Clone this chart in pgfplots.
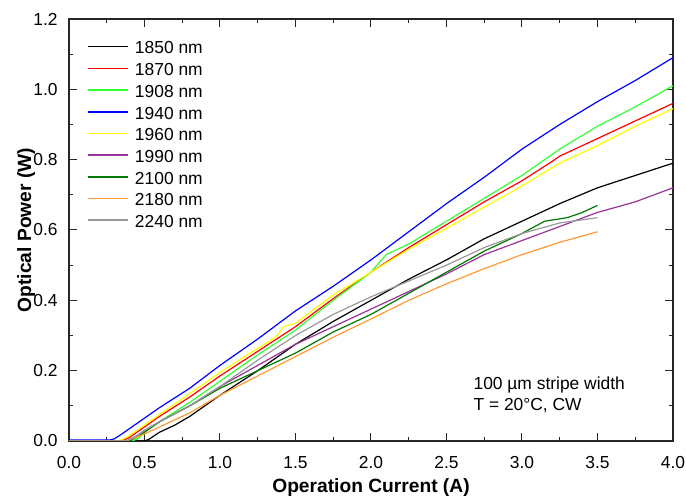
\documentclass[border=0pt]{standalone}
\usepackage{fontspec}
\setmainfont{Liberation Sans}
\usepackage{pgfplots}
\pgfplotsset{compat=1.18}
\definecolor{cgreen}{HTML}{33FF33}
\definecolor{cyellow}{HTML}{FFFF00}
\definecolor{cpurple}{HTML}{993399}
\definecolor{cdkgreen}{HTML}{007700}
\definecolor{corange}{HTML}{FF9933}
\definecolor{cgray}{HTML}{999999}
\begin{document}
\fontsize{8.7}{10.4}\selectfont
\begin{tikzpicture}
\useasboundingbox (-34.5pt,-30pt) rectangle (308.5pt,220.5pt);
\begin{axis}[
    at={(0pt,0pt)}, anchor=south west,
    width=302pt, height=211pt,
    scale only axis,
    xmin=0, xmax=4, ymin=0, ymax=1.2,
    xtick={0,0.5,...,4}, ytick={0,0.2,...,1.2},
    minor x tick num=1, minor y tick num=1,
    tick align=inside,
    major tick length=4pt, minor tick length=2.2pt,
    axis line style={line width=0.7pt, black!85},
    every tick/.style={black!85, line width=0.5pt},
    /pgf/number format/assume math mode=true,
    /pgf/number format/.cd, fixed, fixed zerofill, precision=1, /pgfplots/.cd,
    ticklabel style={font=\fontsize{8.7}{10.4}\selectfont},
    xticklabel style={yshift=-4.5pt},
    yticklabel style={xshift=-2.6pt},
    xlabel={\bfseries Operation Current (A)},
    ylabel={\bfseries Optical Power (W)},
    label style={font=\fontsize{9.6}{11.5}\selectfont},
    xlabel style={at={(axis description cs:0.5,-0.1232)}, anchor=base},
    ylabel style={at={(axis description cs:-0.0629,0.5)}, anchor=base},
    legend style={draw=none, fill=none, at={(axis description cs:0,1)}, anchor=north west,
        xshift=9pt, yshift=-10.8pt, inner sep=0pt,
        font=\fontsize{8.7}{10.4}\selectfont, row sep=2.55pt, column sep=3pt,
        nodes={inner sep=0pt, text height=6.5pt, text depth=1.8pt}},
    legend cell align=left,
    legend image code/.code={\draw[#1, line width=0.8pt] (0pt,1.3pt) -- (20pt,1.3pt);},
    every axis plot/.append style={line width=0.6pt},
]
\addplot[black] coordinates {(0,0)(0.5,0)(0.53,0.005)(0.6,0.025)(0.7,0.045)(0.8,0.07)(1.0,0.13)(1.25,0.2)(1.5,0.275)(1.75,0.34)(2.0,0.4)(2.25,0.46)(2.5,0.515)(2.75,0.575)(3.0,0.625)(3.25,0.675)(3.5,0.72)(3.75,0.755)(4.0,0.79)};
\addlegendentry{1850 nm}
\addplot[red] coordinates {(0,0)(0.35,0)(0.4,0.01)(0.5,0.04)(0.6,0.07)(0.8,0.125)(1.0,0.185)(1.25,0.255)(1.5,0.325)(1.75,0.405)(2.0,0.48)(2.25,0.55)(2.5,0.615)(2.75,0.68)(3.0,0.74)(3.2,0.795)(3.25,0.81)(3.5,0.86)(3.75,0.91)(4.0,0.96)};
\addlegendentry{1870 nm}
\addplot[cgreen] coordinates {(0,0)(0.42,0)(0.46,0.008)(0.5,0.025)(0.6,0.055)(0.8,0.11)(1.0,0.17)(1.25,0.245)(1.5,0.315)(1.6,0.35)(1.75,0.4)(2.0,0.48)(2.1,0.53)(2.25,0.56)(2.5,0.625)(2.75,0.69)(3.0,0.755)(3.25,0.83)(3.5,0.895)(3.75,0.95)(4.0,1.01)};
\addlegendentry{1908 nm}
\addplot[blue] coordinates {(0,0.003)(0.27,0.003)(0.3,0.006)(0.35,0.02)(0.4,0.035)(0.5,0.065)(0.6,0.095)(0.8,0.15)(1.0,0.215)(1.25,0.29)(1.5,0.37)(1.75,0.44)(2.0,0.515)(2.25,0.595)(2.5,0.675)(2.75,0.75)(3.0,0.83)(3.25,0.9)(3.5,0.965)(3.75,1.025)(4.0,1.09)};
\addlegendentry{1940 nm}
\addplot[cyellow] coordinates {(0,0)(0.33,0)(0.38,0.01)(0.45,0.03)(0.5,0.045)(0.6,0.075)(0.8,0.135)(1.0,0.195)(1.2,0.25)(1.35,0.29)(1.38,0.3)(1.42,0.325)(1.5,0.335)(1.75,0.415)(2.0,0.48)(2.25,0.545)(2.5,0.605)(2.75,0.665)(3.0,0.725)(3.25,0.79)(3.5,0.84)(3.75,0.895)(4.0,0.945)};
\addlegendentry{1960 nm}
\addplot[cpurple] coordinates {(0,0)(0.38,0)(0.45,0.015)(0.5,0.03)(0.6,0.055)(0.8,0.1)(1.0,0.155)(1.25,0.215)(1.5,0.275)(1.75,0.325)(2.0,0.375)(2.25,0.425)(2.5,0.475)(2.75,0.53)(3.0,0.57)(3.25,0.61)(3.5,0.65)(3.75,0.68)(4.0,0.72)};
\addlegendentry{1990 nm}
\addplot[cdkgreen] coordinates {(0,0)(0.4,0)(0.45,0.012)(0.5,0.025)(0.6,0.055)(0.8,0.1)(1.0,0.15)(1.25,0.2)(1.5,0.25)(1.75,0.31)(2.0,0.36)(2.25,0.42)(2.5,0.48)(2.75,0.54)(3.0,0.59)(3.15,0.625)(3.3,0.635)(3.4,0.65)(3.5,0.67)};
\addlegendentry{2100 nm}
\addplot[corange] coordinates {(0,0)(0.38,0)(0.45,0.012)(0.5,0.02)(0.6,0.04)(0.8,0.08)(1.0,0.13)(1.25,0.185)(1.5,0.24)(1.75,0.295)(2.0,0.347)(2.25,0.4)(2.5,0.447)(2.75,0.49)(3.0,0.53)(3.25,0.565)(3.5,0.595)};
\addlegendentry{2180 nm}
\addplot[cgray] coordinates {(0,0)(0.38,0)(0.45,0.015)(0.5,0.03)(0.6,0.055)(0.8,0.1)(1.0,0.155)(1.25,0.23)(1.5,0.3)(1.75,0.36)(2.0,0.41)(2.25,0.455)(2.5,0.5)(2.75,0.55)(3.0,0.59)(3.25,0.62)(3.5,0.635)};
\addlegendentry{2240 nm}
\node[anchor=base west, inner sep=0pt, font=\fontsize{8.7}{10.4}\selectfont] at (axis cs:2.677,0.145) {100 µm stripe width};
\node[anchor=base west, inner sep=0pt, font=\fontsize{8.7}{10.4}\selectfont] at (axis cs:2.677,0.088) {T = 20°C, CW};
\end{axis}
\end{tikzpicture}
\end{document}
